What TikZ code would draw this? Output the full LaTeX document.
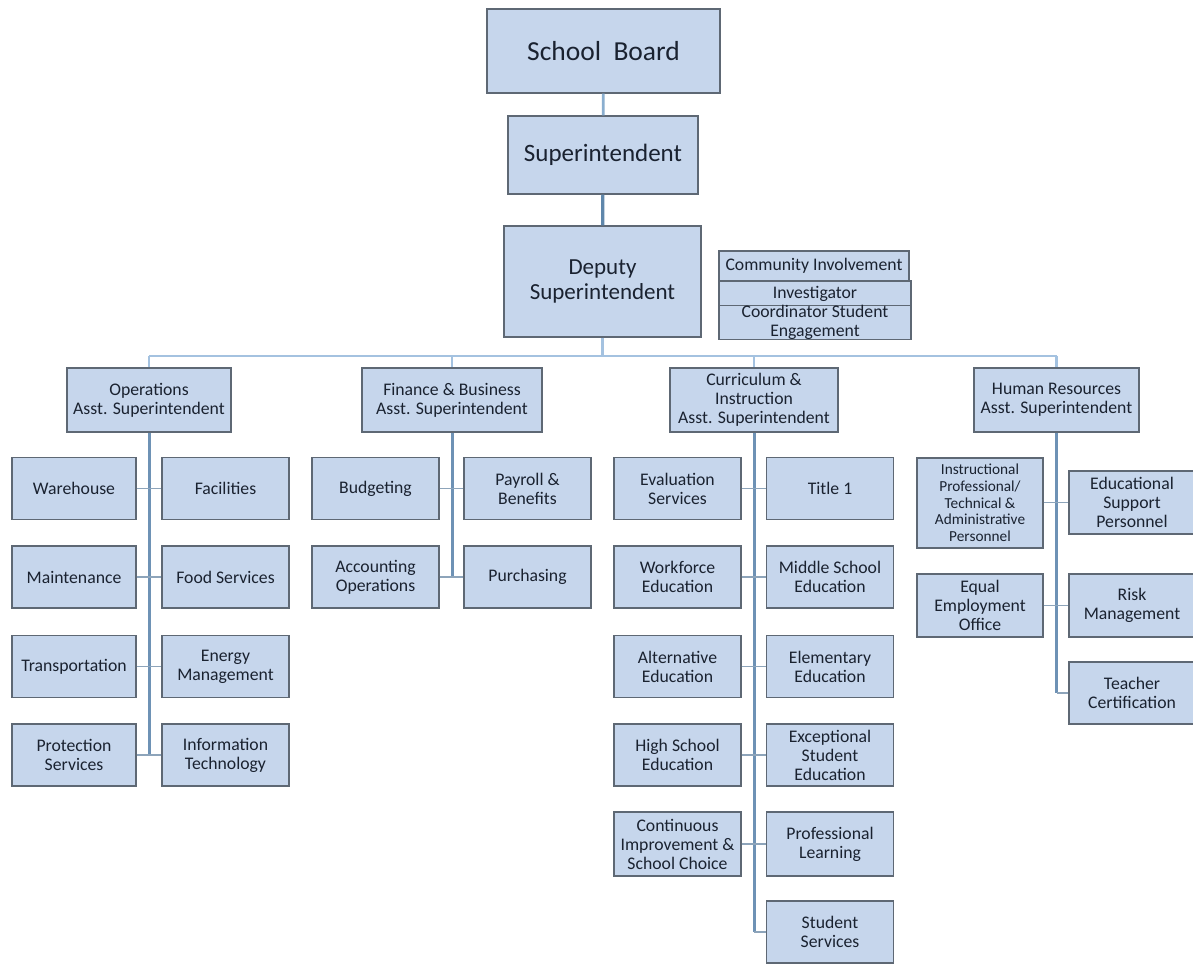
\documentclass[tikz,border=0pt]{standalone}
\usepackage{fontspec}
\setmainfont{Carlito}
\definecolor{boxfill}{HTML}{C6D6EC}
\definecolor{boxline}{HTML}{5E6874}
\definecolor{txt}{HTML}{1A2230}
\definecolor{buscol}{HTML}{A4C2E0}
\definecolor{trunkcol}{HTML}{6E92B5}
\definecolor{stubcol}{HTML}{8DA4BA}
\definecolor{topA}{HTML}{8AAECF}
\definecolor{topB}{HTML}{5F87AB}
\begin{document}
\begin{tikzpicture}[x=1pt,y=-1pt,
  box/.style={draw=boxline, line width=1.1pt, fill=boxfill, text=txt, inner sep=0pt,
    align=center, font=\fontsize{17.7}{19}\selectfont},
  cbox/.style={box, minimum width=127pt, minimum height=62pt},
  bus/.style={draw=buscol, line width=2.6pt},
  trunk/.style={draw=trunkcol, line width=3pt},
  stub/.style={draw=stubcol, line width=1.8pt},
]
\useasboundingbox (0,0) rectangle (1193,964);
\fill[white] (0,0) rectangle (1193,964);

% top
\node[box, minimum width=233pt, minimum height=84pt, font=\fontsize{27.5}{30}\selectfont] (sb) at (603.5,51) {School\ \ Board};
\node[box, minimum width=190pt, minimum height=78pt, font=\fontsize{25}{28}\selectfont] (sup) at (603,155) {Superintendent};
\node[box, minimum width=197pt, minimum height=111pt, font=\fontsize{23}{24.5}\selectfont] (dep) at (602.5,281.5) {Deputy\\Superintendent};

\node[box, minimum width=190pt, minimum height=30pt] (ci) at (814,266) {Community Involvement};
\node[box, minimum width=192pt, minimum height=25pt] (inv) at (815,293.5) {Investigator};
\node[box, minimum width=192pt, minimum height=33pt] (cse) at (815,322.5) {Coordinator Student\\Engagement};

\draw[draw=topA, line width=2.6pt] (sb) -- (sup);
\draw[draw=topB, line width=3.2pt] (sup) -- (dep);

% assistant superintendents
\node[box, minimum width=164pt, minimum height=64pt] (ops) at (149,400) {Operations\\Asst. Superintendent};
\node[box, minimum width=180pt, minimum height=64pt] (fin) at (452,400) {Finance \& Business\\Asst. Superintendent};
\node[box, minimum width=168pt, minimum height=64pt] (cur) at (754,400) {Curriculum \&\\Instruction\\Asst. Superintendent};
\node[box, minimum width=165pt, minimum height=64pt] (hr) at (1056.5,400) {Human Resources\\Asst. Superintendent};

\coordinate (busy) at (605,356);
\draw[bus] (ops.north |- busy) -- (hr.north |- busy);
\draw[bus] (dep.south) -- (dep.south |- busy);
\draw[bus] (ops.north |- busy) -- (ops.north);
\draw[bus] (fin.north |- busy) -- (fin.north);
\draw[bus] (cur.north |- busy) -- (cur.north);
\draw[bus] (hr.north |- busy) -- (hr.north);

% operations children
\node[cbox, minimum width=124pt] (o1) at (74,488.5) {Warehouse};
\node[cbox] (o2) at (225.5,488.5) {Facilities};
\node[cbox, minimum width=124pt] (o3) at (74,577) {Maintenance};
\node[cbox] (o4) at (225.5,577) {Food Services};
\node[cbox, minimum width=124pt] (o5) at (74,666.5) {Transportation};
\node[cbox] (o6) at (225.5,666.5) {Energy\\Management};
\node[cbox, minimum width=124pt] (o7) at (74,755) {Protection\\Services};
\node[cbox] (o8) at (225.5,755) {Information\\Technology};
\draw[trunk] (ops.south) -- (ops.south |- o7.east);
\draw[stub] (o1.east) -- (o2.west);
\draw[stub] (o3.east) -- (o4.west);
\draw[stub] (o5.east) -- (o6.west);
\draw[stub] (o7.east) -- (o8.west);

% finance children
\node[cbox] (f1) at (375.5,488.5) {Budgeting};
\node[cbox] (f2) at (527.5,488.5) {Payroll \&\\Benefits};
\node[cbox] (f3) at (375.5,577) {Accounting\\Operations};
\node[cbox] (f4) at (527.5,577) {Purchasing};
\draw[trunk] (fin.south) -- (fin.south |- f3.east);
\draw[stub] (f1.east) -- (f2.west);
\draw[stub] (f3.east) -- (f4.west);

% curriculum children
\node[cbox] (c1) at (677.5,488.5) {Evaluation\\Services};
\node[cbox] (c2) at (830,488.5) {Title 1};
\node[cbox] (c3) at (677.5,577) {Workforce\\Education};
\node[cbox] (c4) at (830,577) {Middle School\\Education};
\node[cbox] (c5) at (677.5,666.5) {Alternative\\Education};
\node[cbox] (c6) at (830,666.5) {Elementary\\Education};
\node[cbox] (c7) at (677.5,755) {High School\\Education};
\node[cbox] (c8) at (830,755) {Exceptional\\Student\\Education};
\node[cbox, minimum height=64pt] (c9) at (677.5,844) {Continuous\\Improvement \&\\School Choice};
\node[cbox, minimum height=64pt] (c10) at (830,844) {Professional\\Learning};
\node[cbox] (c11) at (830,932) {Student\\Services};
\draw[trunk] (cur.south) -- (cur.south |- c11.west);
\draw[stub] (c1.east) -- (c2.west);
\draw[stub] (c3.east) -- (c4.west);
\draw[stub] (c5.east) -- (c6.west);
\draw[stub] (c7.east) -- (c8.west);
\draw[stub] (c9.east) -- (c10.west);
\draw[stub] (cur.south |- c11.west) -- (c11.west);

% HR children
\node[cbox, minimum width=126pt, minimum height=90pt, font=\fontsize{15.3}{16.7}\selectfont] (h1) at (980,503) {Instructional\\Professional/\\Technical \&\\Administrative\\Personnel};
\node[cbox, minimum width=126pt, minimum height=63pt] (h2) at (1132,502.5) {Educational\\Support\\Personnel};
\node[cbox, minimum width=126pt, minimum height=63pt] (h3) at (980,605.5) {Equal\\Employment\\Office};
\node[cbox, minimum width=126pt, minimum height=63pt] (h4) at (1132,605.5) {Risk\\Management};
\node[cbox, minimum width=126pt, minimum height=62pt] (h5) at (1132,693) {Teacher\\Certification};
\draw[trunk] (hr.south) -- (hr.south |- h5.west);
\draw[stub] (h1.east |- h2.west) -- (h2.west);
\draw[stub] (h3.east) -- (h4.west);
\draw[stub] (hr.south |- h5.west) -- (h5.west);
\end{tikzpicture}
\end{document}
